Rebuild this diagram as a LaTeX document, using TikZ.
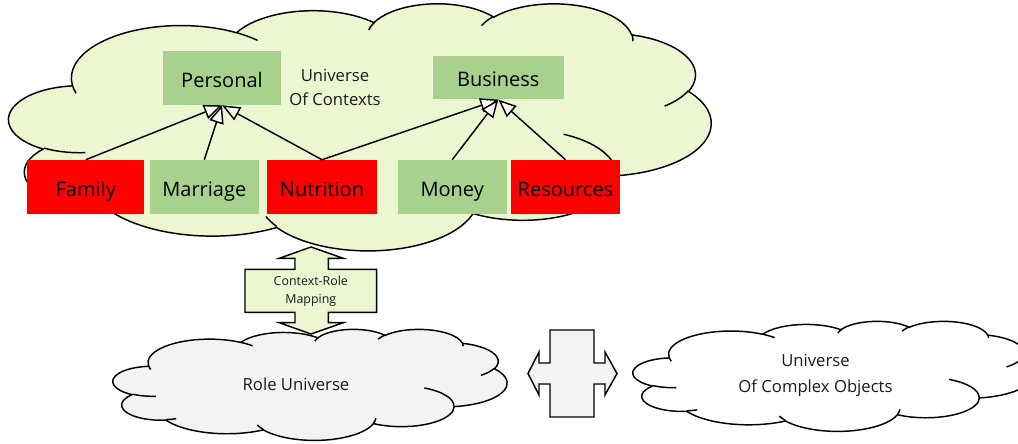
\documentclass[tikz,border=0pt]{standalone}
\usepackage{fontspec}
\setmainfont{Open Sans}
\usetikzlibrary{arrows.meta}
\definecolor{cloudgreen}{HTML}{ECF6D0}
\definecolor{boxgreen}{HTML}{A9D18E}
\definecolor{boxred}{HTML}{FF0000}
\definecolor{cloudgray}{HTML}{F3F3F3}
\definecolor{txt}{HTML}{1A1A1A}
\tikzset{
  cloudline/.style={draw=black, line width=1.1pt, line join=round},
  boxbase/.style={inner sep=0pt, font=\fontsize{15}{18}\selectfont, text=black, text height=13.5pt, text depth=0pt},
  greenbox/.style={boxbase, fill=boxgreen},
  redbox/.style={boxbase, fill=boxred},
  gen/.style={draw=black, line width=1.1pt, -{Triangle[open, length=13.5pt, width=11pt, fill=white]}},
  bigarrow/.style={draw=black, line width=1.1pt, line join=miter},
  cloudtext/.style={align=center, text=txt, inner sep=0pt, font=\fontsize{12.5}{18}\selectfont},
}
% elliptical arc with DrawingML (visual) angles
\newcommand\oarc[4]{arc[x radius=#1pt, y radius=#2pt,
  start angle={atan2(#1*sin(#3),#2*cos(#3))},
  delta angle={mod(atan2(#1*sin(#3+#4),#2*cos(#3+#4))-atan2(#1*sin(#3),#2*cos(#3))+540,360)-180}]}
\newcommand\officecloud[5]{%
\begin{scope}[shift={(#1,#2)}, xscale={#3*0.75/432}, yscale={-#4*0.75/432}]
\path[cloudline, fill=#5] (39pt,143.7pt)
 \oarc{67.53}{91.90}{-190.4875}{123.7805}
 \oarc{53.33}{72.67}{-144.1024}{89.9452}
 \oarc{43.65}{59.45}{-145.8079}{99.7230}
 \oarc{48.57}{65.95}{-130.9861}{117.2417}
 \oarc{53.33}{72.73}{-78.7089}{109.0269}
 \oarc{67.75}{92.20}{-46.2673}{130.2690}
 \oarc{57.85}{78.67}{0.6250}{114.0333}
 \oarc{67.52}{92.15}{22.4516}{115.1726}
 \oarc{77.20}{105.43}{66.2426}{75.7110}
 \oarc{43.60}{59.18}{-274.9421}{146.7356}
 \oarc{43.45}{59.45}{-246.8285}{152.5189}
 -- cycle;
\draw[cloudline]
 (46.93pt,261.77pt) \oarc{43.45}{59.45}{86.742}{26.4295}
 (69.28pt,348.99pt) \oarc{43.60}{59.18}{73.6105}{11.4475}
 (164.78pt,390.90pt) \oarc{67.52}{92.15}{137.6242}{14.0811}
 (288.27pt,347.51pt) \oarc{67.52}{92.15}{6.4533}{15.9984}
 (341.29pt,229.54pt) \oarc{57.85}{78.67}{-70.2924}{70.9174}
 (417.98pt,153.54pt) \oarc{53.33}{72.73}{30.3180}{27.7515}
 (383.24pt,54.26pt) \oarc{48.57}{65.95}{-13.7443}{14.8589}
 (290.78pt,39.52pt) \oarc{48.57}{65.95}{-149.1815}{18.1954}
 (221.41pt,47.20pt) \oarc{43.65}{59.45}{-163.4943}{17.6864}
 (140.00pt,51.92pt) \oarc{67.53}{91.90}{-66.7070}{12.3194}
 (41.27pt,157.89pt) \oarc{67.53}{91.90}{157.6544}{11.8582};
\end{scope}}
\begin{document}
\begin{tikzpicture}[x=0.75pt, y=-0.75pt]
\useasboundingbox (0,0) rectangle (1018,443);
% clouds
\officecloud{9}{3}{702}{247}{cloudgreen}
\officecloud{113}{329}{394}{111}{cloudgray}
\officecloud{633}{321}{400}{110}{white}
% texts in clouds
\node[cloudtext, font=\fontsize{12.5}{17.5}\selectfont] (uctx) at (335,87.5) {Universe\\Of Contexts};
\node[cloudtext] (role) at (296,384) {Role Universe};
\node[cloudtext, font=\fontsize{12.5}{19}\selectfont] (cobj) at (815.5,375.5) {Universe\\Of Complex Objects};
% boxes
\node[greenbox, minimum width=88pt, minimum height=40.5pt] (personal) at (222,78) {Personal};
\node[greenbox, minimum width=98.5pt, minimum height=32.7pt] (business) at (498.3,77.5) {Business};
\node[redbox, minimum width=87.75pt, minimum height=40.5pt] (family) at (85.8,187) {Family};
\node[greenbox, minimum width=81.5pt, minimum height=40.5pt] (marriage) at (204.3,187) {Marriage};
\node[redbox, minimum width=82pt, minimum height=40.5pt] (nutrition) at (322,187) {Nutrition};
\node[greenbox, minimum width=81.75pt, minimum height=40.5pt] (money) at (452.2,187) {Money};
\node[redbox, minimum width=81.75pt, minimum height=40.5pt] (resources) at (565.5,187) {Resources};
% generalisations
\draw[gen] (family.north) -- (personal.south);
\draw[gen] (marriage.north) -- (personal.south);
\draw[gen] (nutrition.north) -- (personal.south);
\draw[gen] (nutrition.north) -- (business.south);
\draw[gen] (money.north) -- (business.south);
\draw[gen] (resources.north) -- (business.south);
% vertical double arrow
\path[bigarrow, fill=cloudgreen] (311,247) -- (343.3,258.3) -- (328.3,258.3) -- (328.3,269.3)
  -- (376.7,269.3) -- (376.7,312.3) -- (328.3,312.3) -- (328.3,322.7) -- (343.3,322.7)
  -- (311,334) -- (279.3,322.7) -- (295,322.7) -- (295,312.3) -- (245,312.3) -- (245,269.3)
  -- (295,269.3) -- (295,258.3) -- (279.3,258.3) -- cycle;
\node[align=center, text=txt, inner sep=0pt, font=\fontsize{9.3}{13.8}\selectfont] (crm) at (310.8,291.5) {Context-Role\\Mapping};
% horizontal double arrow
\path[bigarrow, fill=cloudgray] (528,373.5) -- (539,352) -- (539,363) -- (550,363) -- (550,330)
  -- (594,330) -- (594,363) -- (605,363) -- (605,352) -- (617,373.5) -- (605,395) -- (605,384)
  -- (594,384) -- (594,417) -- (550,417) -- (550,384) -- (539,384) -- (539,395) -- cycle;
\end{tikzpicture}
\end{document}
